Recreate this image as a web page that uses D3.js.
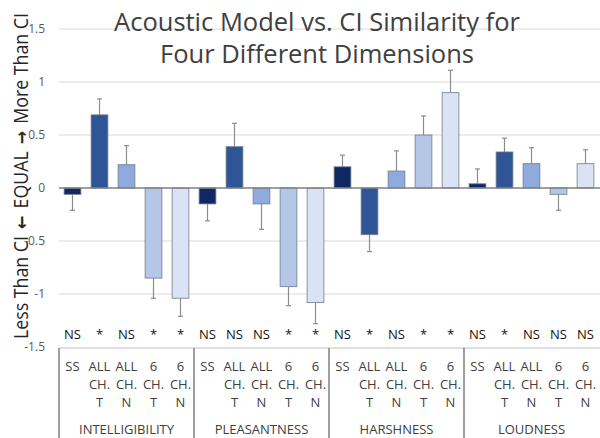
<!DOCTYPE html>
<html>
<head>
<meta charset="utf-8">
<script src="https://cdn.jsdelivr.net/npm/d3@7"></script>
<style>
  body { margin: 0; background: #fff; }
  svg text { font-family: "Open Sans", "Noto Sans", sans-serif; }
</style>
</head>
<body>
<div id="chart"></div>
<script>
// chart data
const groups = ['INTELLIGIBILITY', 'PLEASANTNESS', 'HARSHNESS', 'LOUDNESS'];
const conditions = ['SS', 'ALL CH. T', 'ALL CH. N', '6 CH. T', '6 CH. N'];
const conditionLines = [['SS'], ['ALL', 'CH.', 'T'], ['ALL', 'CH.', 'N'], ['6', 'CH.', 'T'], ['6', 'CH.', 'N']];
const intelligibility = [-0.06, 0.69, 0.22, -0.85, -1.04];
const pleasantness = [-0.15, 0.39, -0.15, -0.93, -1.08];
const harshness = [0.20, -0.44, 0.16, 0.50, 0.90];
const loudness = [0.04, 0.34, 0.23, -0.06, 0.23];
const intelligibilityErr = [0.15, 0.15, 0.18, 0.19, 0.17];
const pleasantnessErr = [0.16, 0.22, 0.24, 0.18, 0.20];
const harshnessErr = [0.11, 0.16, 0.19, 0.18, 0.21];
const loudnessErr = [0.14, 0.13, 0.15, 0.15, 0.13];
const intelligibilitySig = ['NS', '*', 'NS', '*', '*'];
const pleasantnessSig = ['NS', 'NS', 'NS', '*', '*'];
const harshnessSig = ['NS', '*', 'NS', '*', '*'];
const loudnessSig = ['NS', '*', 'NS', 'NS', 'NS'];
const yTicks = [1.5, 1, 0.5, 0, -0.5, -1, -1.5];
const colors = ['#0f2862', '#2f5597', '#8faadc', '#b4c7e7', '#dae3f3'];

const values = [intelligibility, pleasantness, harshness, loudness];
const errors = [intelligibilityErr, pleasantnessErr, harshnessErr, loudnessErr];
const sigs = [intelligibilitySig, pleasantnessSig, harshnessSig, loudnessSig];

const rows = [];
groups.forEach((g, gi) => {
  conditions.forEach((c, ci) => {
    rows.push({ group: g, cond: c, ci, value: values[gi][ci], err: errors[gi][ci], sig: sigs[gi][ci] });
  });
});

const width = 600, height = 438;
const left = 59, right = 599;

const svg = d3.select('#chart').append('svg')
  .attr('width', width)
  .attr('height', height);

const y = d3.scaleLinear().domain([-1.5, 1.5]).range([347, 29]);

const x0 = d3.scaleBand().domain(groups).range([left, right]);
const x1 = d3.scaleBand().domain(conditions).range([0, x0.bandwidth()]).paddingInner(0.38).paddingOuter(0.19);

// gridlines
svg.append('g')
  .selectAll('line')
  .data(yTicks.filter(t => t !== 0 && t !== -1.5))
  .enter()
  .append('line')
  .attr('x1', left)
  .attr('x2', 600)
  .attr('y1', d => y(d))
  .attr('y2', d => y(d))
  .attr('stroke', '#d9d9d9')
  .attr('stroke-width', 1.2);

// y tick labels
svg.append('g')
  .selectAll('text')
  .data(yTicks)
  .enter()
  .append('text')
  .attr('x', 45)
  .attr('y', d => y(d))
  .attr('dy', '0.35em')
  .attr('text-anchor', 'end')
  .attr('font-size', '12px')
  .attr('fill', '#595959')
  .text(d => d);

// title
const title = svg.append('text')
  .attr('text-anchor', 'middle')
  .attr('font-size', '25.5px')
  .attr('fill', '#404040');
title.append('tspan').attr('x', 317).attr('y', 31).text('Acoustic Model vs. CI Similarity for');
title.append('tspan').attr('x', 317).attr('y', 63).text('Four Different Dimensions');

// y axis label (rotated), arrows point down / up on screen
const yLabel = svg.append('text')
  .attr('transform', `translate(28, 176) rotate(-90)`)
  .attr('text-anchor', 'middle')
  .attr('font-size', '20px')
  .attr('fill', '#262626')
  .attr('textLength', 326)
  .attr('lengthAdjust', 'spacingAndGlyphs');
yLabel.append('tspan').text('Less Than CI');
yLabel.append('tspan').attr('dx', 8).attr('font-family', 'DejaVu Sans').attr('font-weight', 'bold').attr('font-size', '18px').text('\u2190');
yLabel.append('tspan').attr('dx', 8).text('EQUAL');
yLabel.append('tspan').attr('dx', 8).attr('font-family', 'DejaVu Sans').attr('font-weight', 'bold').attr('font-size', '18px').text('\u2192');
yLabel.append('tspan').attr('dx', 8).text('More Than CI');

// bars
const bars = svg.append('g')
  .selectAll('.bar')
  .data(rows)
  .enter()
  .append('g')
  .attr('class', 'bar')
  .attr('transform', d => `translate(${x0(d.group) + x1(d.cond)}, 0)`);

bars.append('line')
  .attr('x1', x1.bandwidth() / 2)
  .attr('x2', x1.bandwidth() / 2)
  .attr('y1', d => y(d.value))
  .attr('y2', d => y(d.value + Math.sign(d.value) * d.err))
  .attr('stroke', '#8c8c8c')
  .attr('stroke-width', 1.2);

bars.append('line')
  .attr('x1', x1.bandwidth() / 2 - 2.5)
  .attr('x2', x1.bandwidth() / 2 + 2.5)
  .attr('y1', d => y(d.value + Math.sign(d.value) * d.err))
  .attr('y2', d => y(d.value + Math.sign(d.value) * d.err))
  .attr('stroke', '#8c8c8c')
  .attr('stroke-width', 1.2);

bars.append('rect')
  .attr('x', 0)
  .attr('width', x1.bandwidth())
  .attr('y', d => y(Math.max(0, d.value)))
  .attr('height', d => Math.abs(y(d.value) - y(0)))
  .attr('fill', d => colors[d.ci])
  .attr('stroke', '#6f7a8c')
  .attr('stroke-opacity', 0.8)
  .attr('stroke-width', 1);

// zero line
svg.append('line')
  .attr('x1', left)
  .attr('x2', 600)
  .attr('y1', y(0))
  .attr('y2', y(0))
  .attr('stroke', '#7f7f7f')
  .attr('stroke-width', 1.5);

// significance row
svg.append('g')
  .selectAll('text')
  .data(rows)
  .enter()
  .append('text')
  .attr('x', d => x0(d.group) + x1(d.cond) + x1.bandwidth() / 2)
  .attr('y', 339)
  .attr('text-anchor', 'middle')
  .attr('font-size', '13px')
  .attr('fill', '#111')
  .text(d => d.sig);

// table lines
svg.append('line')
  .attr('x1', left)
  .attr('x2', 600)
  .attr('y1', 348)
  .attr('y2', 348)
  .attr('stroke', '#bfbfbf')
  .attr('stroke-width', 1);

svg.append('g')
  .selectAll('line')
  .data(groups)
  .enter()
  .append('line')
  .attr('x1', d => x0(d))
  .attr('x2', d => x0(d))
  .attr('y1', 348)
  .attr('y2', height)
  .attr('stroke', '#7f7f7f')
  .attr('stroke-width', 1.5);

// category labels
const catLabels = svg.append('g')
  .selectAll('text')
  .data(rows)
  .enter()
  .append('text')
  .attr('text-anchor', 'middle')
  .attr('font-size', '13px')
  .attr('fill', '#404040');

catLabels.each(function(d) {
  const cx = x0(d.group) + x1(d.cond) + x1.bandwidth() / 2;
  conditionLines[d.ci].forEach((line, li) => {
    d3.select(this).append('tspan')
      .attr('x', cx)
      .attr('y', 371 + li * 18)
      .text(line);
  });
});

// group labels
svg.append('g')
  .selectAll('text')
  .data(groups)
  .enter()
  .append('text')
  .attr('x', d => x0(d) + x0.bandwidth() / 2)
  .attr('y', 434)
  .attr('text-anchor', 'middle')
  .attr('font-size', '13px')
  .attr('fill', '#404040')
  .text(d => d);
</script>
</body>
</html>
